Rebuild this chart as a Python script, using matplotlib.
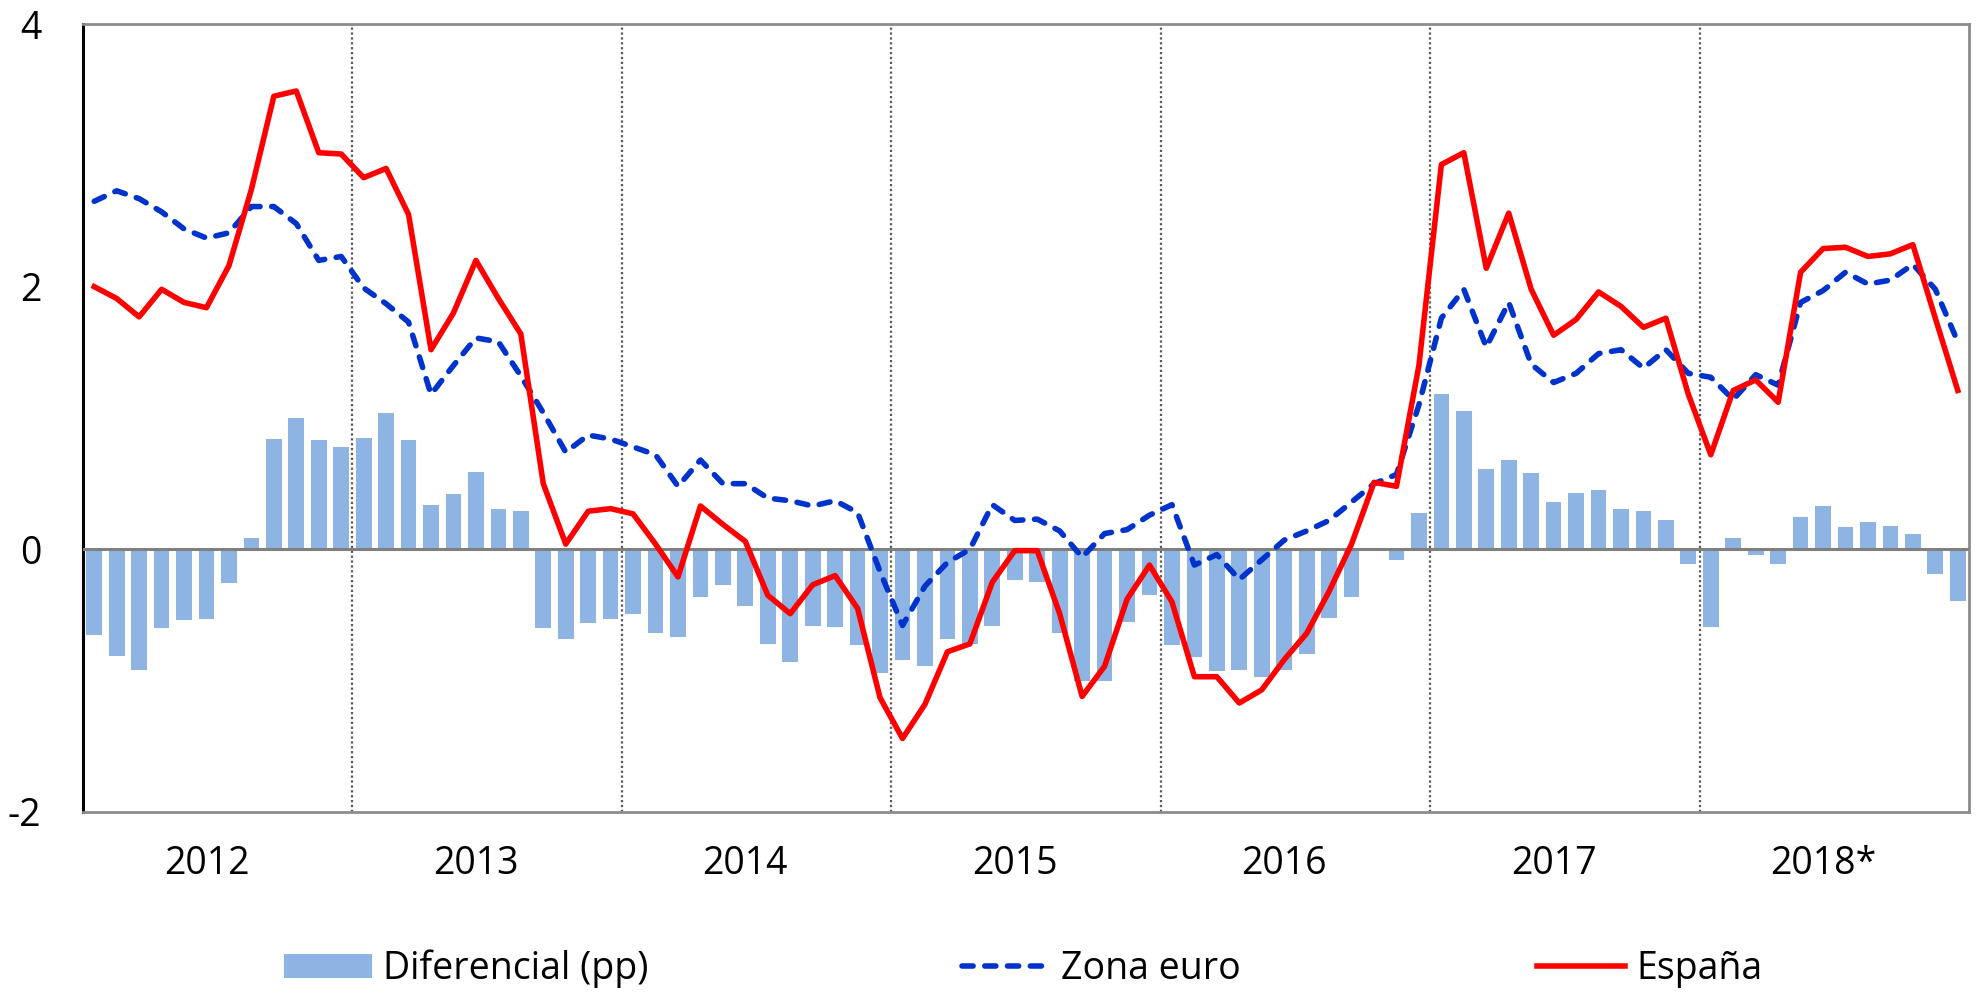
import matplotlib
matplotlib.use('Agg')
import matplotlib.pyplot as plt
import numpy as np
from matplotlib.patches import Patch
from matplotlib.lines import Line2D

plt.rcParams['font.family'] = ['Open Sans', 'DejaVu Sans']
plt.rcParams['axes.unicode_minus'] = False

# ---------------- data (monthly, Jan 2012 - Dec 2018) ----------------
years = ['2012', '2013', '2014', '2015', '2016', '2017', '2018*']

espana = [
    2.00, 1.91, 1.77, 1.98, 1.88, 1.84, 2.16, 2.74, 3.45, 3.49, 3.02, 3.01,
    2.83, 2.90, 2.55, 1.52, 1.80, 2.20, 1.91, 1.64, 0.50, 0.04, 0.29, 0.31,
    0.27, 0.04, -0.21, 0.33, 0.19, 0.06, -0.35, -0.49, -0.27, -0.20, -0.45, -1.13,
    -1.44, -1.18, -0.78, -0.72, -0.25, -0.01, -0.01, -0.49, -1.12, -0.89, -0.38, -0.12,
    -0.40, -0.97, -0.97, -1.17, -1.07, -0.84, -0.64, -0.32, 0.04, 0.51, 0.48, 1.40,
    2.93, 3.02, 2.14, 2.56, 1.98, 1.63, 1.75, 1.96, 1.85, 1.69, 1.76, 1.18,
    0.72, 1.21, 1.29, 1.12, 2.11, 2.29, 2.30, 2.23, 2.25, 2.32, 1.76, 1.21,
]

zona_euro = [
    2.65, 2.73, 2.67, 2.57, 2.44, 2.37, 2.41, 2.61, 2.61, 2.48, 2.20, 2.23,
    1.99, 1.87, 1.73, 1.18, 1.40, 1.61, 1.58, 1.32, 1.04, 0.74, 0.87, 0.84,
    0.78, 0.72, 0.48, 0.68, 0.50, 0.50, 0.39, 0.37, 0.33, 0.37, 0.28, -0.17,
    -0.58, -0.28, -0.10, 0.00, 0.34, 0.22, 0.23, 0.14, -0.06, 0.12, 0.15, 0.26,
    0.34, -0.12, -0.04, -0.23, -0.08, 0.07, 0.14, 0.22, 0.36, 0.50, 0.57, 1.10,
    1.76, 1.98, 1.54, 1.88, 1.41, 1.27, 1.34, 1.49, 1.52, 1.38, 1.52, 1.34,
    1.31, 1.14, 1.33, 1.25, 1.88, 1.97, 2.11, 2.02, 2.05, 2.17, 1.98, 1.58,
]

diferencial = [
    -0.65, -0.81, -0.92, -0.60, -0.54, -0.53, -0.26, 0.09, 0.84, 1.00, 0.83, 0.78,
    0.85, 1.04, 0.83, 0.34, 0.42, 0.59, 0.31, 0.29, -0.60, -0.68, -0.56, -0.53,
    -0.49, -0.64, -0.67, -0.36, -0.27, -0.43, -0.72, -0.86, -0.58, -0.59, -0.73, -0.94,
    -0.84, -0.89, -0.68, -0.72, -0.58, -0.23, -0.25, -0.64, -1.00, -1.00, -0.55, -0.35,
    -0.73, -0.82, -0.93, -0.92, -0.97, -0.92, -0.80, -0.52, -0.36, 0.00, -0.08, 0.28,
    1.18, 1.05, 0.61, 0.68, 0.58, 0.36, 0.43, 0.45, 0.31, 0.29, 0.22, -0.11,
    -0.59, 0.09, -0.04, -0.11, 0.25, 0.33, 0.17, 0.21, 0.18, 0.12, -0.19, -0.39,
]

y_ticks = [-2, 0, 2, 4]
y_labels = ['-2', '0', '2', '4']
legend_labels = ['Diferencial (pp)', 'Zona euro', 'España']

# ---------------- styling ----------------
C_BAR = '#8DB4E2'
C_EURO = '#0033CC'
C_ESP = '#FF0000'
FS = 27
LW = 4.0
DASH = (0, (2.0, 2.1))
W, H = 1979, 993

x = np.arange(len(espana))
n_per_year = len(espana) // len(years)

fig = plt.figure(figsize=(W / 100, H / 100), dpi=100)
ax = fig.add_axes([83 / W, 1 - 812 / H, (1969 - 83) / W, (812 - 24) / H])

ax.bar(x, diferencial, width=0.7, color=C_BAR, zorder=2)
ax.axhline(0, color='#808080', lw=2.2, zorder=3)
for k in range(1, len(years)):
    ax.axvline(k * n_per_year - 0.5, color='#5A5A5A', lw=1.6,
               linestyle=(0, (1, 1.2)), zorder=1)
ax.plot(x, zona_euro, color=C_EURO, lw=LW, linestyle=DASH,
        dash_capstyle='round', zorder=4)
ax.plot(x, espana, color=C_ESP, lw=LW, solid_joinstyle='round', zorder=5)

ax.set_xlim(-0.5, len(espana) - 0.5)
ax.set_ylim(-2, 4)
ax.set_yticks(y_ticks)
ax.set_yticklabels(y_labels)
ax.set_xticks([k * n_per_year + (n_per_year - 1) / 2 - 0.5 for k in range(len(years))])
ax.set_xticklabels(years)
ax.tick_params(axis='y', length=0, pad=30, labelsize=FS)
ax.tick_params(axis='x', length=0, pad=24, labelsize=FS)

for side in ['top', 'right', 'bottom']:
    ax.spines[side].set_color('#8C8C8C')
    ax.spines[side].set_linewidth(2.0)
ax.spines['left'].set_color('black')
ax.spines['left'].set_linewidth(2.2)

# ---------------- legend ----------------
handles = [
    Patch(facecolor=C_BAR, edgecolor='none'),
    Line2D([0], [0], color=C_EURO, lw=LW, linestyle=DASH, dash_capstyle='round'),
    Line2D([0], [0], color=C_ESP, lw=LW),
]
anchors_x = [284, 962, 1537]
for h, lab, ax_px in zip(handles, legend_labels, anchors_x):
    fig.legend([h], [lab], loc='center left', bbox_to_anchor=(ax_px / W, 1 - 969 / H),
               frameon=False, fontsize=FS, borderpad=0, borderaxespad=0,
               handlelength=2.35, handleheight=0.6, handletextpad=0.3)

fig.savefig('out.png', dpi=100)
